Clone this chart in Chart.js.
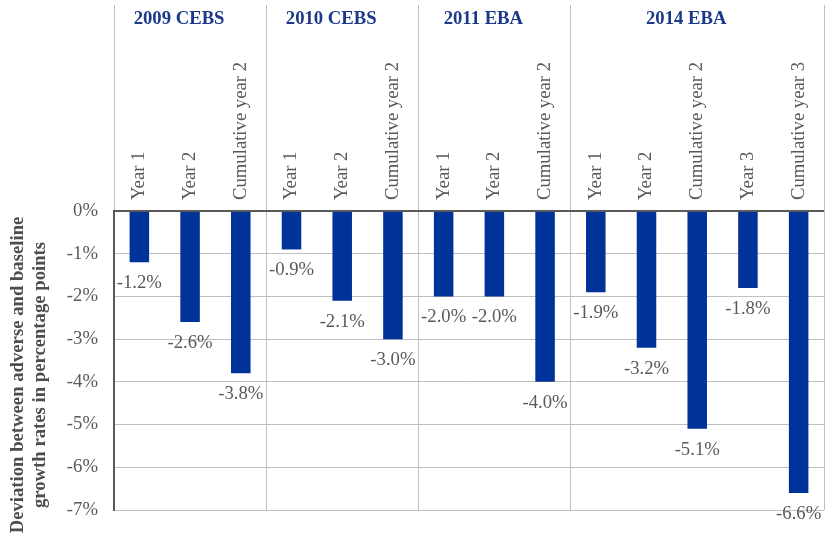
<!DOCTYPE html>
<html>
<head>
<meta charset="utf-8">
<script src="https://cdn.jsdelivr.net/npm/chart.js@4.4.0/dist/chart.umd.min.js"></script>
<style>
  html, body { margin: 0; padding: 0; background: #ffffff; }
  #wrap { width: 827px; height: 541px; }
</style>
</head>
<body>
<div id="wrap"><canvas id="c" width="827" height="541"></canvas></div>
<script>
const categories = ['Year 1', 'Year 2', 'Cumulative year 2',
                    'Year 1', 'Year 2', 'Cumulative year 2',
                    'Year 1', 'Year 2', 'Cumulative year 2',
                    'Year 1', 'Year 2', 'Cumulative year 2', 'Year 3', 'Cumulative year 3'];
const values = [-1.2, -2.6, -3.8,
                -0.9, -2.1, -3.0,
                -2.0, -2.0, -4.0,
                -1.9, -3.2, -5.1, -1.8, -6.6];
const groupNames = ['2009 CEBS', '2010 CEBS', '2011 EBA', '2014 EBA'];
const groupSizes = [3, 3, 3, 5];
const yTicks = [0, -1, -2, -3, -4, -5, -6, -7];
const axisTitle = ['Deviation between adverse and baseline', 'growth rates in percentage points'];

const FONT = "'Liberation Serif', 'Times New Roman', serif";
const TXT = '#595959';

const overlay = {
  id: 'overlay',
  beforeDatasetsDraw(chart) {
    const ctx = chart.ctx, xs = chart.scales.x, area = chart.chartArea;
    const cw = (area.right - area.left) / categories.length;
    ctx.save();
    ctx.strokeStyle = '#BFBFBF';
    ctx.lineWidth = 1;
    // left boundary above the zero line
    ctx.beginPath();
    ctx.moveTo(Math.round(area.left) + 0.5, 5);
    ctx.lineTo(Math.round(area.left) + 0.5, area.top);
    ctx.stroke();
    let idx = 0;
    groupSizes.forEach(n => {
      idx += n;
      const x = Math.round(xs.getPixelForValue(idx - 1) + cw / 2) + 0.5;
      ctx.beginPath();
      ctx.moveTo(x, 5);
      ctx.lineTo(x, area.bottom);
      ctx.stroke();
    });
    ctx.restore();
  },
  afterDatasetsDraw(chart) {
    const ctx = chart.ctx, xs = chart.scales.x, ys = chart.scales.y, area = chart.chartArea;
    const cw = (area.right - area.left) / categories.length;
    ctx.save();
    // zero line on top of bars
    const y0 = ys.getPixelForValue(0);
    ctx.strokeStyle = '#595959';
    ctx.lineWidth = 2;
    ctx.beginPath();
    ctx.moveTo(area.left, y0);
    ctx.lineTo(area.right, y0);
    ctx.stroke();

    // data labels
    ctx.fillStyle = TXT;
    ctx.font = '18.7px ' + FONT;
    ctx.textAlign = 'center';
    ctx.textBaseline = 'middle';
    values.forEach((v, i) => {
      ctx.fillText(v.toFixed(1) + '%', xs.getPixelForValue(i), ys.getPixelForValue(v) + 21);
    });

    // rotated category labels
    categories.forEach((c, i) => {
      ctx.save();
      ctx.translate(xs.getPixelForValue(i), y0 - 11);
      ctx.rotate(-Math.PI / 2);
      ctx.textAlign = 'left';
      ctx.textBaseline = 'middle';
      ctx.fillText(c, 0, 0);
      ctx.restore();
    });

    // group titles
    ctx.fillStyle = '#1B3889';
    ctx.font = 'bold 18.7px ' + FONT;
    ctx.textAlign = 'center';
    ctx.textBaseline = 'middle';
    let start = 0;
    groupNames.forEach((g, k) => {
      const x0 = xs.getPixelForValue(start) - cw / 2;
      const x1 = xs.getPixelForValue(start + groupSizes[k] - 1) + cw / 2;
      ctx.fillText(g, (x0 + x1) / 2 - 11, 19);
      start += groupSizes[k];
    });

    // y axis title
    ctx.fillStyle = '#4D4D4D';
    ctx.font = 'bold 18.7px ' + FONT;
    ctx.save();
    ctx.translate(18, 375);
    ctx.rotate(-Math.PI / 2);
    ctx.fillText(axisTitle[0], 0, 0);
    ctx.fillText(axisTitle[1], 0, 22);
    ctx.restore();
    ctx.restore();
  }
};

new Chart(document.getElementById('c'), {
  type: 'bar',
  data: {
    labels: categories,
    datasets: [{
      data: values,
      backgroundColor: '#00339A',
      borderWidth: 0,
      categoryPercentage: 1.0,
      barPercentage: 0.385
    }]
  },
  options: {
    responsive: false,
    animation: false,
    layout: { padding: { top: 211, right: 3, bottom: 31, left: 0 } },
    plugins: { legend: { display: false }, tooltip: { enabled: false } },
    scales: {
      x: { display: false, offset: true },
      y: {
        min: -7, max: 0,
        afterBuildTicks(scale) { scale.ticks = yTicks.map(v => ({ value: v })); },
        afterFit(scale) { scale.width = 114; },
        ticks: {
          padding: 16,
          color: TXT,
          font: { family: FONT, size: 18.7 },
          callback: v => v + '%'
        },
        grid: {
          color: '#BFBFBF',
          lineWidth: 1,
          drawTicks: false
        },
        border: { display: true, color: '#595959', width: 2 }
      }
    }
  },
  plugins: [overlay]
});
</script>
</body>
</html>
